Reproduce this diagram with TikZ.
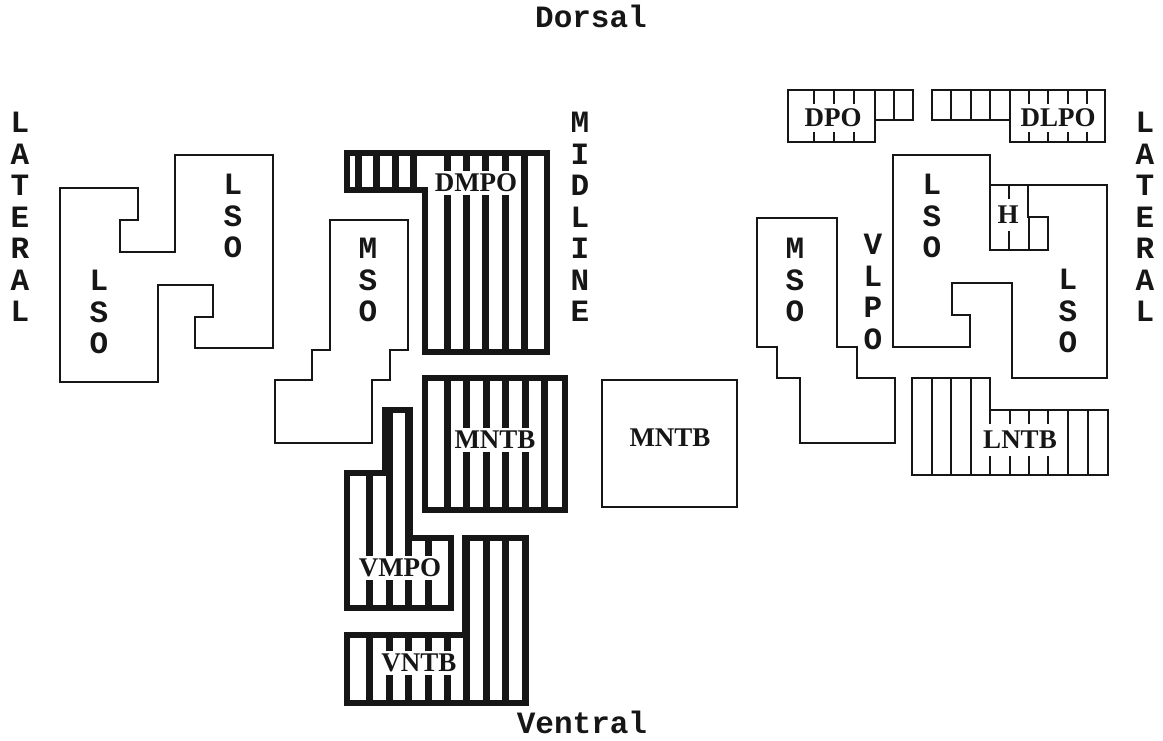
\documentclass[tikz,border=0pt]{standalone}
\usepackage{fontspec}
\setmainfont{Liberation Serif}
\setmonofont{Liberation Mono}
\definecolor{ink}{RGB}{22,22,22}
\tikzset{
    outline/.style={draw=ink, line width=2.8pt},
    heavyoutline/.style={draw=ink, line width=6.5pt},
    heavybar/.style={draw=ink, line width=7pt},
    thinbar/.style={draw=ink, line width=2.4pt},
    axisword/.style={
        font=\ttfamily\bfseries\fontsize{31}{31.5}\selectfont,
        text=ink,
        align=center,
        inner sep=0pt
    },
    tag/.style={
        font=\bfseries\fontsize{27}{27}\selectfont,
        text=ink,
        fill=white,
        inner xsep=1pt,
        inner ysep=5pt
    },
    heavytag/.style={tag, inner ysep=3pt}
}
\begin{document}
\begin{tikzpicture}[x=1pt, y=-1pt]
\useasboundingbox (0,0) rectangle (1163,741);

% orientation words
\node[axisword, anchor=base] (dorsal) at (591,28) {Dorsal};
\node[axisword, anchor=base] (ventral) at (582,733) {Ventral};
\node[axisword] (latleft) at (20,217) {L\\A\\T\\E\\R\\A\\L};
\node[axisword] (midline) at (580,217) {M\\I\\D\\L\\I\\N\\E};
\node[axisword] (latright) at (1145,217) {L\\A\\T\\E\\R\\A\\L};

% left side, plain outlines
\draw[outline] (60,188) -- (138,188) -- (138,220) -- (120,220) -- (120,252)
    -- (175,252) -- (175,155) -- (273,155) -- (273,348) -- (195,348)
    -- (195,317) -- (213,317) -- (213,285) -- (158,285) -- (158,382)
    -- (60,382) -- cycle;
\node[axisword] (lsoleftA) at (233,216) {L\\S\\O};
\node[axisword] (lsoleftB) at (99,312) {L\\S\\O};

\draw[outline] (330,220) -- (408,220) -- (408,350) -- (390,350) -- (390,380)
    -- (372,380) -- (372,443) -- (275,443) -- (275,380) -- (312,380)
    -- (312,350) -- (330,350) -- cycle;
\node[axisword] (msoleft) at (368,280) {M\\S\\O};

% left side, heavy stripes
\begin{scope}
    \clip (347,153) -- (547,153) -- (547,352) -- (425,352) -- (425,190) -- (347,190) -- cycle;
    \foreach \x in {358,376,395,413,447,466,485,505,524}
        \draw[heavybar] (\x,140) -- (\x,360);
\end{scope}
\draw[heavyoutline] (347,153) -- (547,153) -- (547,352) -- (425,352) -- (425,190) -- (347,190) -- cycle;
\node[heavytag] (dmpo) at (476,183) {DMPO};

\begin{scope}
    \clip (425,378) rectangle (565,510);
    \foreach \x in {447,466,486,505,525,544}
        \draw[heavybar] (\x,370) -- (\x,520);
\end{scope}
\draw[heavyoutline] (425,378) rectangle (565,510);
\node[heavytag] (mntbleft) at (495,440) {MNTB};

\begin{scope}
    \clip (385,410) -- (410,410) -- (410,538) -- (451,538) -- (451,608) -- (347,608) -- (347,473) -- (385,473) -- cycle;
    \foreach \x in {369,389,408,428}
        \draw[heavybar] (\x,400) -- (\x,620);
\end{scope}
\draw[heavyoutline] (385,410) -- (410,410) -- (410,538) -- (451,538) -- (451,608) -- (347,608) -- (347,473) -- (385,473) -- cycle;
\node[heavytag] (vmpo) at (400,568) {VMPO};

\begin{scope}
    \clip (465,538) -- (526,538) -- (526,703) -- (347,703) -- (347,635) -- (465,635) -- cycle;
    \foreach \x in {369,389,408,428,447,466,486,505,525}
        \draw[heavybar] (\x,530) -- (\x,710);
\end{scope}
\draw[heavyoutline] (465,538) -- (526,538) -- (526,703) -- (347,703) -- (347,635) -- (465,635) -- cycle;
\node[heavytag] (vntb) at (419,663) {VNTB};

% middle
\draw[outline] (602,380) rectangle (737,507);
\node[tag] (mntbright) at (670,438) {MNTB};

% right side, plain outlines
\draw[outline] (757,218) -- (837,218) -- (837,347) -- (857,347) -- (857,378)
    -- (895,378) -- (895,443) -- (800,443) -- (800,378) -- (777,378)
    -- (777,347) -- (757,347) -- cycle;
\node[axisword] (msoright) at (795,280) {M\\S\\O};
\node[axisword] (vlpo) at (873,292) {V\\L\\P\\O};

\draw[outline] (893,155) -- (990,155) -- (990,185) -- (1107,185) -- (1107,378)
    -- (1012,378) -- (1012,283) -- (952,283) -- (952,315) -- (970,315)
    -- (970,347) -- (893,347) -- cycle;
\node[axisword] (lsorightA) at (932,216) {L\\S\\O};
\node[axisword] (lsorightB) at (1068,311) {L\\S\\O};

% right side, thin stripes
\begin{scope}
    \clip (990,185) -- (1028,185) -- (1028,217) -- (1048,217) -- (1048,250) -- (990,250) -- cycle;
    \foreach \x in {1009,1029}
        \draw[thinbar] (\x,180) -- (\x,260);
\end{scope}
\draw[outline] (990,185) -- (1028,185) -- (1028,217) -- (1048,217) -- (1048,250) -- (990,250) -- cycle;
\node[tag, inner ysep=7pt] (h) at (1008,215) {H};

\begin{scope}
    \clip (788,90) -- (913,90) -- (913,120) -- (875,120) -- (875,142) -- (788,142) -- cycle;
    \foreach \x in {814,834,854,875,894}
        \draw[thinbar] (\x,80) -- (\x,150);
\end{scope}
\draw[outline] (788,90) -- (913,90) -- (913,120) -- (875,120) -- (875,142) -- (788,142) -- cycle;
\node[tag] (dpo) at (833,118) {DPO};

\begin{scope}
    \clip (932,90) -- (1105,90) -- (1105,142) -- (1010,142) -- (1010,120) -- (932,120) -- cycle;
    \foreach \x in {951,971,990,1010,1029,1048,1068,1087}
        \draw[thinbar] (\x,80) -- (\x,150);
\end{scope}
\draw[outline] (932,90) -- (1105,90) -- (1105,142) -- (1010,142) -- (1010,120) -- (932,120) -- cycle;
\node[tag] (dlpo) at (1058,118) {DLPO};

\begin{scope}
    \clip (912,378) -- (990,378) -- (990,410) -- (1108,410) -- (1108,475) -- (912,475) -- cycle;
    \foreach \x in {932,951,971,990,1010,1029,1048,1068,1088}
        \draw[thinbar] (\x,370) -- (\x,480);
\end{scope}
\draw[outline] (912,378) -- (990,378) -- (990,410) -- (1108,410) -- (1108,475) -- (912,475) -- cycle;
\node[tag, inner ysep=7pt] (lntb) at (1020,440) {LNTB};

\end{tikzpicture}
\end{document}
